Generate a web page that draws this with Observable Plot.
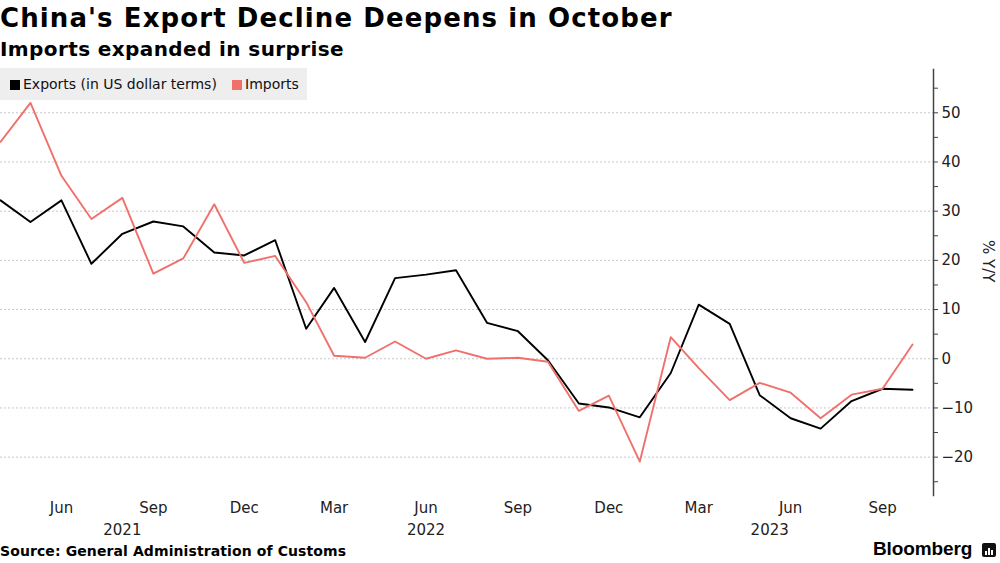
<!DOCTYPE html>
<html>
<head>
<meta charset="utf-8">
<script src="https://cdn.jsdelivr.net/npm/d3@7"></script>
<script src="https://cdn.jsdelivr.net/npm/@observablehq/plot@0.6"></script>
<style>
  html, body { margin: 0; padding: 0; background: #fff; }
  body { width: 1000px; height: 563px; position: relative; overflow: hidden; font-family: "DejaVu Sans", sans-serif; color: #000; }
  #title { position: absolute; left: 0; top: 2px; font-weight: bold; font-size: 26px; letter-spacing: 1.1px; line-height: 32px; white-space: nowrap; }
  #subtitle { position: absolute; left: 0; top: 36px; font-weight: bold; font-size: 20px; letter-spacing: 0.4px; line-height: 26px; white-space: nowrap; }
  #chart { position: absolute; left: 0; top: 62px; }
  #legend { position: absolute; left: 0; top: 68px; width: 307px; height: 32px; background: #eeeeee; font-size: 14px; line-height: 33px; white-space: nowrap; z-index: 2; color: #111; }
  #legend .item { position: absolute; top: 0; }
  #legend .sw { display: inline-block; width: 10px; height: 10px; margin-right: 3px; vertical-align: -1px; }
  #source { position: absolute; left: 0; top: 543px; font-weight: bold; font-size: 14px; letter-spacing: 0.1px; white-space: nowrap; }
  #brand { position: absolute; left: 873px; top: 538px; font-family: "Liberation Sans", Arial, sans-serif; font-weight: bold; font-size: 19px; letter-spacing: -0.1px; white-space: nowrap; }
  #icon { position: absolute; left: 982px; top: 543px; width: 14px; height: 14px; background: #111; border-radius: 2px; }
</style>
</head>
<body>
<div id="title">China's Export Decline Deepens in October</div>
<div id="subtitle">Imports expanded in surprise</div>
<div id="chart"></div>
<div id="legend"></div>
<div id="source">Source: General Administration of Customs</div>
<div id="brand">Bloomberg</div>
<div id="icon"><svg width="14" height="14"><rect x="3" y="7" width="2" height="4" fill="#fff"/><rect x="6" y="4" width="2" height="7" fill="#fff"/><rect x="9" y="6" width="2" height="5" fill="#fff"/></svg></div>
<script>
// ---- data ----
const months = [
  "2021-04","2021-05","2021-06","2021-07","2021-08","2021-09","2021-10","2021-11","2021-12",
  "2022-01","2022-02","2022-03","2022-04","2022-05","2022-06","2022-07","2022-08","2022-09","2022-10","2022-11","2022-12",
  "2023-01","2023-02","2023-03","2023-04","2023-05","2023-06","2023-07","2023-08","2023-09","2023-10"
];
const exportsYoY = [
  32.2, 27.8, 32.2, 19.3, 25.4, 27.9, 26.9, 21.6, 21.0,
  24.1, 6.1, 14.4, 3.4, 16.4, 17.1, 18.0, 7.3, 5.6, -0.3, -9.1, -9.9,
  -11.9, -2.9, 11.0, 7.1, -7.4, -12.1, -14.2, -8.6, -6.1, -6.3
];
const importsYoY = [
  44.1, 52.0, 37.2, 28.4, 32.7, 17.3, 20.4, 31.4, 19.5,
  20.9, 11.5, 0.6, 0.2, 3.5, 0.0, 1.7, 0.0, 0.2, -0.6, -10.6, -7.5,
  -20.9, 4.4, -1.9, -8.4, -4.9, -6.9, -12.1, -7.3, -6.1, 2.9
];
const seriesNames = ["Exports (in US dollar terms)", "Imports"];
const seriesColors = ["#000000", "#f0706c"];
const xTickMonths = ["2021-06","2021-09","2021-12","2022-03","2022-06","2022-09","2022-12","2023-03","2023-06","2023-09"];
const yearLabels = ["2021", "2022", "2023"];
const yearLabelDates = ["2021-08-01", "2022-06-01", "2023-05-11"];
const yTicks = [-20, -10, 0, 10, 20, 30, 40, 50];
const yMinorTicks = [-25, -15, -5, 5, 15, 25, 35, 45, 55];
const yDomain = [-27.8, 58.8];
const xDomain = ["2021-04-01", "2023-10-22"];
const yLabel = "% Y/Y";

// ---- build ----
const parse = s => new Date(s.length === 7 ? s + "-01T00:00:00Z" : s + "T00:00:00Z");
const rows = [];
months.forEach((m, i) => {
  rows.push({date: parse(m), value: exportsYoY[i], series: seriesNames[0]});
  rows.push({date: parse(m), value: importsYoY[i], series: seriesNames[1]});
});
const years = yearLabels.map((t, i) => ({label: t, date: parse(yearLabelDates[i])}));

const chart = Plot.plot({
  width: 1000,
  height: 480,
  marginTop: 7,
  marginBottom: 47,
  marginLeft: 0,
  marginRight: 67,
  style: {fontFamily: "DejaVu Sans, sans-serif", fontSize: "15px", color: "#222", background: "transparent"},
  x: {type: "utc", domain: xDomain.map(parse)},
  y: {domain: yDomain},
  color: {domain: seriesNames, range: seriesColors},
  marks: [
    Plot.gridY(yTicks, {stroke: "#c8c8c8", strokeOpacity: 1, strokeDasharray: "2,2", strokeWidth: 1}),
    Plot.frame({anchor: "right", stroke: "#444", strokeWidth: 1.5}),
    Plot.axisY(yMinorTicks, {anchor: "right", tickSize: 4, text: null, label: null, stroke: "#444"}),
    Plot.axisY(yTicks, {anchor: "right", tickSize: 4, tickPadding: 4, label: null, stroke: "#444", fill: "#222", fontSize: 15}),
    Plot.text([yLabel], {frameAnchor: "right", rotate: 90, dx: 54, fontSize: 15, fill: "#222"}),
    Plot.axisX(xTickMonths.map(parse), {anchor: "bottom", tickSize: 0, tickPadding: 7, tickFormat: d3.utcFormat("%b"), label: null, fontSize: 15, fill: "#222"}),
    Plot.text(years, {x: "date", text: "label", frameAnchor: "bottom", lineAnchor: "top", dy: 29, fontSize: 15, fill: "#222"}),
    Plot.lineY(rows, {x: "date", y: "value", z: "series", stroke: "series", strokeWidth: 1.9, curve: "linear"})
  ]
});
document.getElementById("chart").appendChild(chart);

// legend
const legend = document.getElementById("legend");
const legendLeft = [10, 232];
seriesNames.forEach((n, i) => {
  const it = document.createElement("span");
  it.className = "item";
  it.style.left = legendLeft[i] + "px";
  it.innerHTML = `<span class="sw" style="background:${seriesColors[i]}"></span>${n}`;
  legend.appendChild(it);
});
</script>
</body>
</html>
